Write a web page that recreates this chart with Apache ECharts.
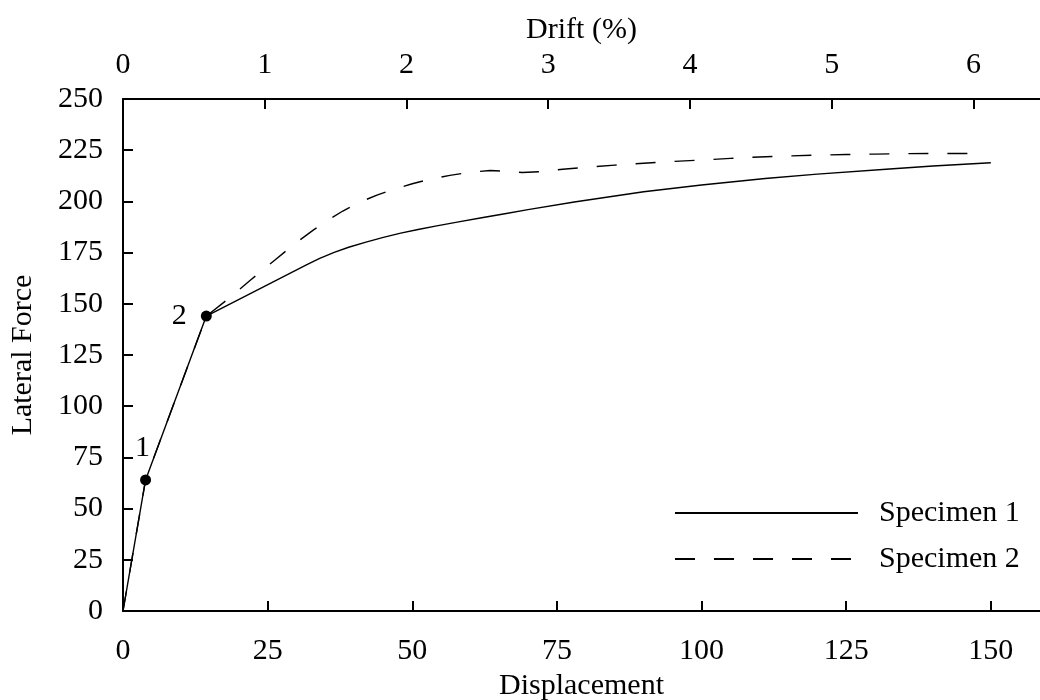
<!DOCTYPE html>
<html>
<head>
<meta charset="utf-8">
<script src="https://cdn.jsdelivr.net/npm/echarts@6.0.0/dist/echarts.min.js"></script>
<style>
  html, body { margin: 0; padding: 0; background: #fff; }
  #chart { width: 1040px; height: 700px; }
</style>
</head>
<body>
<div id="chart"></div>
<script>
"use strict";

// Specimen 1 (solid) — displacement vs lateral force
const spec1X = [0, 3.9, 14.4, 22, 31.7, 34, 36.5, 39, 42, 45, 48, 51, 54, 58, 62, 66, 70, 78, 90, 100, 111, 120, 132.5, 140, 150];
const spec1Y = [0, 64, 144, 155, 169, 172.2, 175.1, 177.6, 180.1, 182.4, 184.5, 186.3, 187.9, 190, 192, 194, 196, 199.7, 204.7, 208, 211.2, 213.3, 215.8, 217.3, 218.9];

// Specimen 2 (dashed)
const spec2X = [0, 3.9, 14.4, 18, 22, 26, 30, 33, 35.5, 38, 41, 44, 47, 50, 53, 56.5, 60, 63.5, 66.5, 69, 72, 76, 80, 85, 90, 95, 100, 105, 110, 115, 120, 125, 130, 135, 140, 146.5];
const spec2Y = [0, 64, 144, 152, 161.5, 170.8, 180, 186.2, 191, 195.3, 199.7, 203.2, 206.1, 208.6, 210.8, 212.7, 214.2, 215.1, 214.6, 214.1, 214.5, 215.7, 216.6, 217.7, 218.6, 219.5, 220.2, 221, 221.7, 222.2, 222.6, 222.9, 223.1, 223.3, 223.4, 223.4];

// marked points "1" and "2"
const markX = [3.9, 14.4];
const markY = [64, 144];
const markLabels = ["1", "2"];

const seriesNames = ["Specimen 1", "Specimen 2"];

const FONT = "'Liberation Serif', 'Times New Roman', serif";
const INK = "#000";

const pairs = (xs, ys) => xs.map((x, i) => [x, ys[i]]);

const axisBase = {
  axisLine: { show: true, lineStyle: { color: INK, width: 2 } },
  axisTick: { show: true, inside: true, length: 10, lineStyle: { color: INK, width: 2 } },
  splitLine: { show: false },
  nameTextStyle: { fontFamily: FONT, fontSize: 30, color: INK, lineHeight: 30 },
};
const labelBase = { fontFamily: FONT, fontSize: 30, color: INK, lineHeight: 30 };

const chart = echarts.init(document.getElementById("chart"), null, { renderer: "canvas" });

chart.setOption({
  animation: false,
  backgroundColor: "#fff",
  textStyle: { fontFamily: FONT, color: INK },
  grid: { left: 123, right: 0, top: 99, bottom: 89, containLabel: false, outerBoundsMode: "none" },
  legend: {
    data: seriesNames,
    orient: "vertical",
    left: 674,
    top: 498,
    padding: 0,
    itemWidth: 183,
    itemHeight: 30,
    itemGap: 16,
    itemStyle: { color: "transparent", borderColor: "transparent", borderWidth: 0 },
    textStyle: { fontFamily: FONT, fontSize: 30, color: INK, lineHeight: 30, padding: [0, 0, 0, 16] },
    selectedMode: false,
  },
  xAxis: [
    {
      ...axisBase,
      type: "value",
      position: "bottom",
      min: 0, max: 158.5, interval: 25,
      name: "Displacement",
      nameLocation: "middle",
      nameGap: 54,
      axisLabel: { ...labelBase, margin: 25, showMaxLabel: false },
    },
    {
      ...axisBase,
      type: "value",
      position: "top",
      min: 0, max: 6.47, interval: 1,
      name: "Drift (%)",
      nameLocation: "middle",
      nameGap: 43,
      axisLabel: { ...labelBase, margin: 19, showMaxLabel: false },
    },
  ],
  yAxis: {
    ...axisBase,
    type: "value",
    min: 0, max: 250, interval: 25,
    name: "Lateral Force",
    nameLocation: "middle",
    nameGap: 85,
    axisLabel: { ...labelBase, margin: 20 },
  },
  series: [
    {
      name: seriesNames[0],
      type: "line",
      xAxisIndex: 0,
      data: pairs(spec1X, spec1Y),
      symbol: "none",
      lineStyle: { color: INK, width: 1.4, type: "solid" },
      itemStyle: { color: INK },
      z: 3,
    },
    {
      name: seriesNames[1],
      type: "line",
      xAxisIndex: 0,
      data: pairs(spec2X, spec2Y),
      symbol: "none",
      lineStyle: { color: INK, width: 1.4, type: [20, 19] },
      itemStyle: { color: INK },
      z: 2,
    },
    {
      name: "points",
      type: "scatter",
      xAxisIndex: 0,
      symbolSize: 11,
      itemStyle: { color: INK, opacity: 1 },
      z: 5,
      data: markX.map((x, i) => ({
        value: [x, markY[i]],
        label: {
          show: true,
          formatter: markLabels[i],
          fontFamily: FONT, fontSize: 30, color: INK, lineHeight: 30,
          position: i === 0 ? "top" : "left",
          distance: i === 0 ? 11 : 14,
          offset: i === 0 ? [-3, 0] : [0, 0],
        },
      })),
    },
  ],
});
</script>
</body>
</html>
